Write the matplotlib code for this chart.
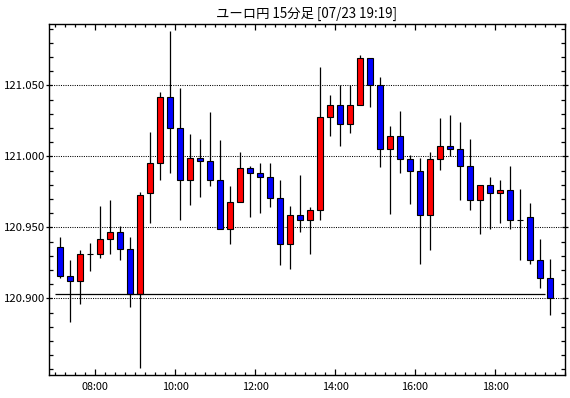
import pandas as pd
import matplotlib
matplotlib.use("Agg")
import matplotlib.pyplot as plt
from matplotlib.ticker import FixedLocator, MultipleLocator

plt.rcParams['font.family'] = ['Noto Sans CJK JP', 'DejaVu Sans']

# ユーロ円 15分足 (07:00 - 19:15)
jikan = pd.date_range("2020-07-23 07:00", periods=50, freq="15min")

opens = [120.936, 120.9155, 120.912, 120.9315, 120.931, 120.9415, 120.947, 120.9345, 120.903, 120.974,
         120.995, 121.042, 121.020, 120.983, 120.9985, 120.997, 120.983, 120.9485, 120.9675, 120.9915,
         120.988, 120.9855, 120.971, 120.9385, 120.959, 120.9555, 120.9625, 121.028, 121.036, 121.023,
         121.036, 121.069, 121.050, 121.005, 121.014, 120.998, 120.990, 120.959, 120.998, 121.0075,
         121.005, 120.9935, 120.969, 120.9795, 120.974, 120.976, 120.955, 120.957, 120.927, 120.914]
highs = [120.943, 120.927, 120.934, 120.939, 120.965, 120.969, 120.951, 120.943, 120.975, 121.017,
         121.045, 121.088, 121.048, 121.016, 121.012, 121.031, 121.0115, 120.979, 121.003, 120.993,
         120.995, 120.995, 120.983, 120.965, 120.987, 120.964, 121.063, 121.043, 121.050, 121.050,
         121.0715, 121.069, 121.056, 121.0215, 121.032, 121.001, 120.999, 121.003, 121.027, 121.029,
         121.024, 121.012, 120.9795, 120.9855, 120.983, 120.993, 120.977, 120.967, 120.942, 120.928]
lows = [120.9145, 120.883, 120.896, 120.9195, 120.9285, 120.931, 120.927, 120.894, 120.851, 120.953,
        120.983, 120.9885, 120.955, 120.966, 120.9715, 120.979, 120.9485, 120.9385, 120.9675, 120.9575,
        120.960, 120.964, 120.9235, 120.921, 120.947, 120.9315, 120.9555, 121.014, 121.007, 121.0165,
        121.036, 121.035, 120.9925, 120.9595, 120.988, 120.9665, 120.9245, 120.934, 120.9905, 121.000,
        120.9695, 120.962, 120.945, 120.9485, 120.953, 120.9485, 120.927, 120.9245, 120.9075, 120.888]
closes = [120.9155, 120.912, 120.9315, 120.9315, 120.9415, 120.947, 120.9345, 120.903, 120.9725, 120.995,
          121.042, 121.020, 120.983, 120.9985, 120.997, 120.983, 120.9485, 120.9675, 120.9915, 120.988,
          120.9855, 120.971, 120.9385, 120.959, 120.9555, 120.9625, 121.028, 121.036, 121.023, 121.036,
          121.069, 121.050, 121.005, 121.014, 120.998, 120.990, 120.959, 120.998, 121.0075, 121.005,
          120.9935, 120.969, 120.9795, 120.974, 120.976, 120.955, 120.955, 120.927, 120.914, 120.9005]

kijun = 120.903  # 横線
y_ticks = [120.900, 120.950, 121.000, 121.050]
x_ticks = [8, 10, 12, 14, 16, 18]
x_labels = ["08:00", "10:00", "12:00", "14:00", "16:00", "18:00"]

df = pd.DataFrame({"open": opens, "high": highs, "low": lows, "close": closes}, index=jikan)
# 時刻 -> 時間(float), 足の中央に置く
df["x"] = df.index.hour + df.index.minute / 60 + 7.5 / 60
df["iro"] = ["red" if c > o else ("blue" if c < o else "black") for o, c in zip(df["open"], df["close"])]

fig = plt.figure(figsize=(5.7, 3.98), dpi=100)
ax = fig.add_axes([49.3 / 570, 1 - 375 / 398, 516 / 570, 350.7 / 398])

# ヒゲ
ax.vlines(df["x"], df["low"], df["high"], color="black", linewidth=0.9, zorder=2)
# 実体
ax.bar(df["x"], df["close"] - df["open"], bottom=df["open"], width=0.15,
       color=df["iro"], edgecolor="black", linewidth=0.8, zorder=3)

# 基準線
ax.hlines(kijun, df["x"].iloc[0] - 0.125, df["x"].iloc[-1] - 0.125, color="black", linewidth=0.9, zorder=4)

for y in y_ticks:
    ax.axhline(y, color="black", linewidth=0.75, linestyle=(0, (1, 1.2)), zorder=1)

ax.set_xlim(6.857, 19.757)
ax.set_ylim(120.846, 121.093)

ax.xaxis.set_major_locator(FixedLocator(x_ticks))
ax.set_xticklabels(x_labels)
ax.xaxis.set_minor_locator(MultipleLocator(0.25))
ax.yaxis.set_major_locator(FixedLocator(y_ticks))
ax.set_yticklabels([f"{v:.3f}" for v in y_ticks])
ax.yaxis.set_minor_locator(MultipleLocator(0.01))

ax.tick_params(axis="x", which="major", direction="in", length=4, width=0.9, top=True, labelsize=7.8, pad=5)
ax.tick_params(axis="x", which="minor", direction="in", length=2, width=0.9, top=True)
ax.tick_params(axis="y", which="major", direction="inout", length=4, width=0.9, right=True, labelsize=8.2, pad=1)
ax.tick_params(axis="y", which="minor", direction="in", length=3, width=0.9, right=True)

for s in ax.spines.values():
    s.set_linewidth(1.0)

fig.text(306 / 570, 1 - 13.5 / 398, "ユーロ円 15分足 [07/23 19:19]", ha="center", va="center", fontsize=9.6)

plt.savefig("out.png", dpi=100)
